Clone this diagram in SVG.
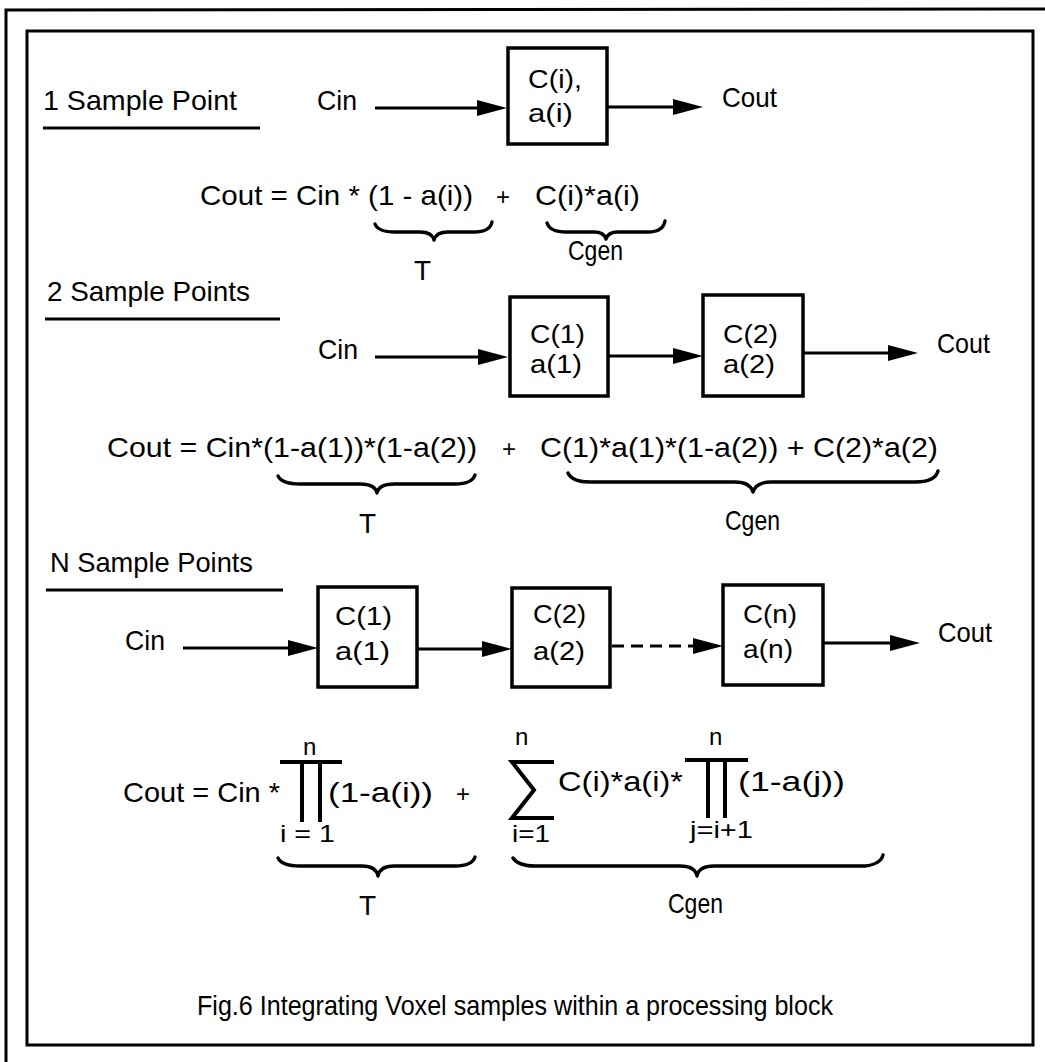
<svg xmlns="http://www.w3.org/2000/svg" width="1045" height="1062" viewBox="0 0 1045 1062">
<style>
text{font-family:"Liberation Sans","DejaVu Sans",sans-serif;font-size:28px;fill:#000}
.sm{font-size:24px}
.bx{font-size:26px}
.box{fill:#fff;stroke:#000;stroke-width:3.5}
.ln{stroke:#000;stroke-width:3;fill:none}
.br{stroke:#000;stroke-width:3.4;fill:none;stroke-linecap:round;stroke-linejoin:round}
.dash{stroke-dasharray:12 7}
</style>
<defs>
<marker id="ah" markerUnits="userSpaceOnUse" viewBox="0 0 30 16" refX="5" refY="8" markerWidth="30" markerHeight="16" orient="auto">
<path d="M0,0 L30,8 L0,16 z" fill="#000"/>
</marker>
</defs>
<rect width="1045" height="1062" fill="#fff"/>
<g id="frame">
<path class="ln" d="M6,1062 L6,10 L1045,9"/>
<rect x="27" y="31" width="1006" height="1014" fill="none" stroke="#000" stroke-width="3"/>
</g>

<g id="headings">
<text x="43" y="110" textLength="194" lengthAdjust="spacingAndGlyphs">1 Sample Point</text>
<line class="ln" x1="43" y1="128" x2="260" y2="128"/>
<text x="47" y="301" textLength="203" lengthAdjust="spacingAndGlyphs">2 Sample Points</text>
<line class="ln" x1="45" y1="319" x2="280" y2="319"/>
<text x="50" y="572" textLength="203" lengthAdjust="spacingAndGlyphs">N Sample Points</text>
<line class="ln" x1="46" y1="590" x2="283" y2="590"/>
</g>

<g id="connectors">
<line class="ln" x1="375" y1="108" x2="482" y2="108" marker-end="url(#ah)"/>
<line class="ln" x1="607" y1="107" x2="678" y2="107" marker-end="url(#ah)"/>
<line class="ln" x1="375" y1="357" x2="483" y2="357" marker-end="url(#ah)"/>
<line class="ln" x1="608" y1="356" x2="678" y2="356" marker-end="url(#ah)"/>
<line class="ln" x1="803" y1="353" x2="893" y2="353" marker-end="url(#ah)"/>
<line class="ln" x1="183" y1="648" x2="293" y2="648" marker-end="url(#ah)"/>
<line class="ln" x1="417" y1="649" x2="487" y2="649" marker-end="url(#ah)"/>
<line class="ln dash" x1="612" y1="646" x2="698" y2="646" marker-end="url(#ah)"/>
<line class="ln" x1="823" y1="643" x2="895" y2="643" marker-end="url(#ah)"/>
</g>

<g id="s1-box">
<rect class="box" x="508" y="48" width="99" height="96"/>
<text class="bx" x="528" y="88" textLength="54" lengthAdjust="spacingAndGlyphs">C(i),</text>
<text class="bx" x="528" y="122" textLength="45" lengthAdjust="spacingAndGlyphs">a(i)</text>
</g>
<g id="s1-labels">
<text x="317" y="110" textLength="40" lengthAdjust="spacingAndGlyphs">Cin</text>
<text x="722" y="107" textLength="55" lengthAdjust="spacingAndGlyphs">Cout</text>
<text x="200" y="205" textLength="273" lengthAdjust="spacingAndGlyphs">Cout = Cin * (1 - a(i))</text>
<text x="496" y="205" class="sm">+</text>
<text x="535" y="205" textLength="105" lengthAdjust="spacingAndGlyphs">C(i)*a(i)</text>
<path class="br" d="M375,224 Q378,232 395,232 L420,232 Q432,232 434,240 Q436,232 448,232 L474,232 Q490,232 492,222"/>
<text x="414" y="280">T</text>
<path class="br" d="M547,223 Q550,232 566,232 L594,232 Q604,232 606,239 Q608,232 618,232 L648,232 Q663,232 665,221"/>
<text x="568" y="260" textLength="55" lengthAdjust="spacingAndGlyphs">Cgen</text>
</g>

<g id="s2-box1">
<rect class="box" x="510" y="297" width="98" height="99"/>
<text class="bx" x="530" y="343" textLength="55" lengthAdjust="spacingAndGlyphs">C(1)</text>
<text class="bx" x="530" y="373" textLength="52" lengthAdjust="spacingAndGlyphs">a(1)</text>
</g>
<g id="s2-box2">
<rect class="box" x="703" y="295" width="100" height="101"/>
<text class="bx" x="723" y="343" textLength="55" lengthAdjust="spacingAndGlyphs">C(2)</text>
<text class="bx" x="723" y="373" textLength="52" lengthAdjust="spacingAndGlyphs">a(2)</text>
</g>
<g id="s2-labels">
<text x="318" y="359" textLength="40" lengthAdjust="spacingAndGlyphs">Cin</text>
<text x="937" y="353" textLength="53" lengthAdjust="spacingAndGlyphs">Cout</text>
<text x="107" y="457" textLength="370" lengthAdjust="spacingAndGlyphs">Cout = Cin*(1-a(1))*(1-a(2))</text>
<text x="502" y="457" class="sm">+</text>
<text x="540" y="457" textLength="398" lengthAdjust="spacingAndGlyphs">C(1)*a(1)*(1-a(2)) + C(2)*a(2)</text>
<path class="br" d="M278,476 Q282,484 300,484 L360,484 Q375,484 377,493 Q379,484 394,484 L455,484 Q472,484 475,475"/>
<text x="359" y="533">T</text>
<path class="br" d="M568,473 Q572,482 590,482 L735,482 Q750,482 753,492 Q756,482 771,482 L915,482 Q935,482 938,471"/>
<text x="725" y="530" textLength="55" lengthAdjust="spacingAndGlyphs">Cgen</text>
</g>

<g id="s3-box1">
<rect class="box" x="318" y="587" width="99" height="100"/>
<text class="bx" x="335" y="625" textLength="57" lengthAdjust="spacingAndGlyphs">C(1)</text>
<text class="bx" x="335" y="660" textLength="55" lengthAdjust="spacingAndGlyphs">a(1)</text>
</g>
<g id="s3-box2">
<rect class="box" x="512" y="588" width="98" height="99"/>
<text class="bx" x="533" y="623" textLength="53" lengthAdjust="spacingAndGlyphs">C(2)</text>
<text class="bx" x="533" y="660" textLength="52" lengthAdjust="spacingAndGlyphs">a(2)</text>
</g>
<g id="s3-box3">
<rect class="box" x="723" y="585" width="100" height="100"/>
<text class="bx" x="743" y="623" textLength="54" lengthAdjust="spacingAndGlyphs">C(n)</text>
<text class="bx" x="743" y="658" textLength="50" lengthAdjust="spacingAndGlyphs">a(n)</text>
</g>
<g id="s3-labels">
<text x="125" y="650" textLength="40" lengthAdjust="spacingAndGlyphs">Cin</text>
<text x="938" y="642" textLength="54" lengthAdjust="spacingAndGlyphs">Cout</text>
<text x="123" y="802" textLength="157" lengthAdjust="spacingAndGlyphs">Cout  = Cin *</text>
<text x="303" y="755" class="sm">n</text>
<path class="ln" d="M280,762 L342,762 M302,762 L302,822 M320,762 L320,822" style="stroke-width:4"/>
<text x="280" y="842" class="sm" textLength="55" lengthAdjust="spacingAndGlyphs">i = 1</text>
<text x="328" y="802" textLength="105" lengthAdjust="spacingAndGlyphs">(1-a(i))</text>
<text x="456" y="802" class="sm">+</text>
<text x="515" y="745" class="sm">n</text>
<path class="ln" d="M554,762 L512,762 L534,790 L512,818 L554,818" style="stroke-width:4;stroke-linejoin:miter"/>
<text x="512" y="842" class="sm" textLength="38" lengthAdjust="spacingAndGlyphs">i=1</text>
<text x="558" y="791" textLength="125" lengthAdjust="spacingAndGlyphs">C(i)*a(i)*</text>
<text x="709" y="745" class="sm">n</text>
<path class="ln" d="M685,760 L748,760 M708,760 L708,818 M725,760 L725,818" style="stroke-width:4"/>
<text x="690" y="838" class="sm" textLength="63" lengthAdjust="spacingAndGlyphs">j=i+1</text>
<text x="738" y="791" textLength="107" lengthAdjust="spacingAndGlyphs">(1-a(j))</text>
<path class="br" d="M278,858 Q282,866 300,866 L362,866 Q376,866 378,876 Q380,866 394,866 L455,866 Q472,866 475,857"/>
<text x="359" y="915">T</text>
<path class="br" d="M513,858 Q518,866 535,866 L680,866 Q695,866 697,876 Q699,866 714,866 L865,866 Q881,864 883,855"/>
<text x="668" y="913" textLength="55" lengthAdjust="spacingAndGlyphs">Cgen</text>
</g>

<g id="caption">
<text x="197" y="1015" textLength="636" lengthAdjust="spacingAndGlyphs">Fig.6  Integrating Voxel samples within a processing block</text>
</g>
</svg>
